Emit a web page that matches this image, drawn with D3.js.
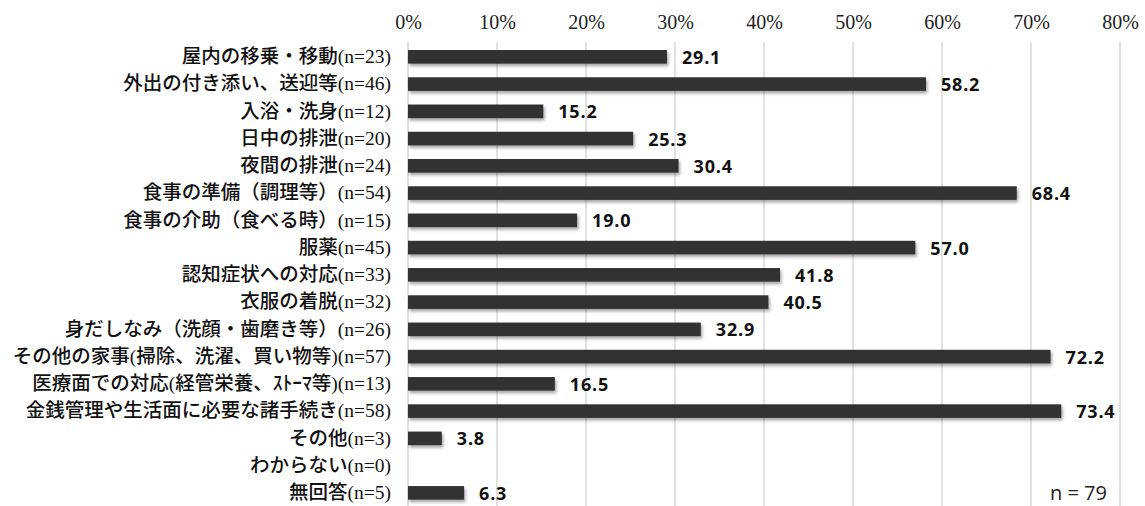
<!DOCTYPE html>
<html><head><meta charset="utf-8">
<script src="https://cdn.jsdelivr.net/npm/d3@7"></script>
<style>body{margin:0;background:#fff}</style>
</head><body>
<svg id="c" width="1145" height="506"></svg>
<script>
const categories = ["屋内の移乗・移動(n=23)","外出の付き添い、送迎等(n=46)","入浴・洗身(n=12)","日中の排泄(n=20)","夜間の排泄(n=24)","食事の準備（調理等）(n=54)","食事の介助（食べる時）(n=15)","服薬(n=45)","認知症状への対応(n=33)","衣服の着脱(n=32)","身だしなみ（洗顔・歯磨き等）(n=26)","その他の家事(掃除、洗濯、買い物等)(n=57)","医療面での対応(経管栄養、ｽﾄｰﾏ等)(n=13)","金銭管理や生活面に必要な諸手続き(n=58)","その他(n=3)","わからない(n=0)","無回答(n=5)"];
const values = [29.1,58.2,15.2,25.3,30.4,68.4,19.0,57.0,41.8,40.5,32.9,72.2,16.5,73.4,3.8,null,6.3];
const tickValues = [0,10,20,30,40,50,60,70,80];
const totalN = "n = 79";

const svg = d3.select("#c");
const x = d3.scaleLinear().domain([0,80]).range([408,1120]);
const y = d3.scaleBand().domain(categories).range([43.2,506.5]).paddingInner(0.5).paddingOuter(0.25);

const defs = svg.append("defs");
const f = defs.append("filter").attr("id","sh").attr("x","-5%").attr("y","-50%").attr("width","115%").attr("height","250%");
f.append("feDropShadow").attr("dx",1.5).attr("dy",2.5).attr("stdDeviation",1.5).attr("flood-color","#000").attr("flood-opacity",0.35);

// gridlines
svg.append("g").selectAll("line").data(tickValues).join("line")
  .attr("x1",d=>x(d)).attr("x2",d=>x(d)).attr("y1",42).attr("y2",506)
  .attr("stroke","#d9d9d9").attr("stroke-width",1.5);

// top axis labels
const ax = svg.append("g").attr("transform","translate(0,29)")
  .call(d3.axisTop(x).tickValues(tickValues).tickFormat(d=>d+"%").tickSize(0).tickPadding(0));
ax.select(".domain").remove();
ax.selectAll("text").attr("font-family","'Liberation Serif','DejaVu Serif',serif").attr("font-size",20).attr("fill","#222");

// category axis labels
const ay = svg.append("g").attr("transform","translate(391,0)")
  .call(d3.axisLeft(y).tickSize(0).tickPadding(0));
ay.select(".domain").remove();
ay.selectAll("text").attr("font-family","'Liberation Serif','Noto Sans CJK JP',serif").attr("font-size",19.5).attr("font-weight",500).attr("fill","#111");

// bars
const rows = categories.map((c,i)=>({c,v:values[i]}));
svg.append("g").selectAll("rect").data(rows.filter(d=>d.v!==null)).join("rect")
  .attr("x",x(0)).attr("y",d=>y(d.c)).attr("width",d=>x(d.v)-x(0)).attr("height",y.bandwidth())
  .attr("fill","#333333").attr("filter","url(#sh)");

// value labels
svg.append("g").selectAll("text").data(rows.filter(d=>d.v!==null)).join("text")
  .attr("x",d=>x(d.v)+15).attr("y",d=>y(d.c)+y.bandwidth()/2+0.5).attr("dy","0.36em")
  .attr("font-family","'Open Sans','Liberation Sans',sans-serif").attr("font-weight",700).attr("font-size",18)
  .attr("letter-spacing",0.8).attr("fill","#111").text(d=>d.v.toFixed(1));

svg.append("text").attr("x",1107).attr("y",493).attr("dy","0.36em").attr("text-anchor","end")
  .attr("font-family","'Open Sans','Liberation Sans',sans-serif").attr("font-size",20).attr("fill","#222").text(totalN);
</script>
</body></html>
